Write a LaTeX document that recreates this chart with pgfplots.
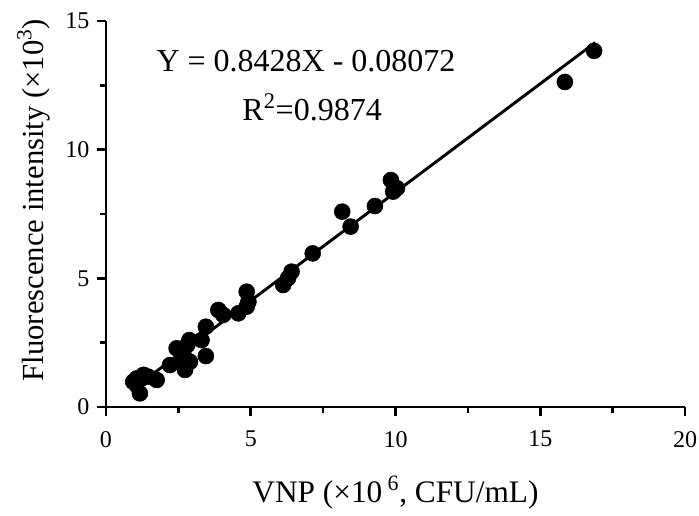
\documentclass[border=0pt]{standalone}
\usepackage{pgfplots}
\pgfplotsset{compat=1.18}
\usepackage{fontspec}
\setmainfont{Liberation Serif}
\begin{document}
\begin{tikzpicture}
\begin{axis}[
  scale only axis,
  width=434.25pt, height=289.5pt,
  xmin=0, xmax=20, ymin=0, ymax=15,
  axis x line*=bottom, axis y line*=left,
  axis line style={line width=2.2pt, -},
  xtick={0,5,10,15,20}, ytick={0,5,10,15},
  minor x tick num=1, minor y tick num=1,
  tick align=outside,
  major tick length=6.5pt, minor tick length=4.5pt,
  every tick/.style={line width=2pt, black},
  tick label style={font=\fontsize{18}{21}\selectfont},
  xticklabel style={yshift=-8pt},
  yticklabel style={xshift=-2.5pt},
  /pgf/number format/assume math mode=true,
  xlabel={VNP (×10\,\textsuperscript{6}, CFU/mL)},
  ylabel={Fluorescence intensity (×10\textsuperscript{3})},
  xlabel style={font=\fontsize{23.5}{26}\selectfont, at={(axis description cs:0.5,0)}, anchor=base, yshift=-72pt},
  ylabel style={font=\fontsize{23}{26}\selectfont, at={(axis description cs:-0.1082,0.536)}, anchor=base},
  clip=false,
]
\addplot[black, line width=2.2pt] coordinates {(0.85,0.6356) (16.9,14.1627)};
\addplot[only marks, mark=*, mark size=6pt, black] coordinates {
(16.86,13.84) (15.85,12.63)
(9.84,8.82) (9.92,8.37) (10.05,8.5) (9.29,7.81) (8.16,7.59) (8.45,7.01)
(7.14,5.97) (6.41,5.26) (6.29,5.01) (6.12,4.74)
(4.86,4.48) (4.92,4.09) (4.86,3.90) (4.57,3.64) (3.88,3.77) (4.05,3.58)
(3.45,3.12) (3.30,2.60) (3.45,1.98) (2.88,2.60) (2.81,2.41) (2.44,2.28)
(2.67,2.08) (2.61,1.89) (2.90,1.76) (2.73,1.44) (2.21,1.63)
(1.75,1.05) (1.46,1.18) (1.23,1.11) (0.94,0.98) (1.06,1.11) (1.17,0.53) (1.30,1.25)
};
\node[font=\fontsize{24}{27}\selectfont, anchor=base] at (axis cs:6.91,13.02) {Y = 0.8428X - 0.08072};
\node[font=\fontsize{24}{27}\selectfont, anchor=base] at (axis cs:7.12,11.15) {R\textsuperscript{2}=0.9874};
\coordinate (sw) at (rel axis cs:0,0);
\coordinate (ne) at (rel axis cs:1,1);
\end{axis}
\pgfresetboundingbox
\useasboundingbox ([xshift=-79.5pt,yshift=-81.75pt]sw) rectangle ([xshift=10.5pt,yshift=15.75pt]ne);
\end{tikzpicture}
\end{document}
